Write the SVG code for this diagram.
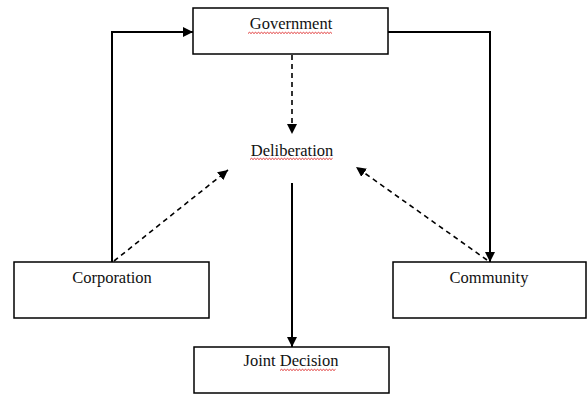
<svg xmlns="http://www.w3.org/2000/svg" width="587" height="395" viewBox="0 0 587 395">
<style>
.box{fill:#fff;stroke:#000;stroke-width:1.5}
.lbl{font-family:"Liberation Serif","DejaVu Serif",serif;font-size:16.5px;fill:#111;text-anchor:middle}
.solid{fill:none;stroke:#000;stroke-width:2}
.dash{fill:none;stroke:#000;stroke-width:1.6;stroke-dasharray:5,4}
.sq{fill:none;stroke:#d22;stroke-width:0.9}
</style>
<defs>
<marker id="ah" viewBox="0 0 10 10" refX="10" refY="5" markerWidth="10" markerHeight="10" markerUnits="userSpaceOnUse" orient="auto">
<path d="M0,0 L10,5 L0,10 z" fill="#000"/>
</marker>
</defs>
<rect width="587" height="395" fill="#fff"/>
<g id="connectors">
<polyline class="solid" points="112,262 112,32 193,32" marker-end="url(#ah)"/>
<polyline class="solid" points="388,32 490,32 490,262" marker-end="url(#ah)"/>
<line class="dash" x1="292" y1="55" x2="292" y2="134" marker-end="url(#ah)"/>
<line class="solid" x1="292" y1="183" x2="292" y2="347" marker-end="url(#ah)"/>
<line class="dash" x1="114" y1="261" x2="228" y2="170" marker-end="url(#ah)"/>
<line class="dash" x1="487" y1="260" x2="356" y2="167" marker-end="url(#ah)"/>
</g>
<g id="government">
<rect class="box" x="193" y="8" width="195" height="46"/>
<text class="lbl" x="291" y="29">Government</text>
<path class="sq" d="M248,33.5 l1.5,-1.2 l1.5,1.2 l1.5,-1.2 l1.5,1.2 l1.5,-1.2 l1.5,1.2 l1.5,-1.2 l1.5,1.2 l1.5,-1.2 l1.5,1.2 l1.5,-1.2 l1.5,1.2 l1.5,-1.2 l1.5,1.2 l1.5,-1.2 l1.5,1.2 l1.5,-1.2 l1.5,1.2 l1.5,-1.2 l1.5,1.2 l1.5,-1.2 l1.5,1.2 l1.5,-1.2 l1.5,1.2 l1.5,-1.2 l1.5,1.2 l1.5,-1.2 l1.5,1.2 l1.5,-1.2 l1.5,1.2 l1.5,-1.2 l1.5,1.2 l1.5,-1.2 l1.5,1.2 l1.5,-1.2 l1.5,1.2 l1.5,-1.2 l1.5,1.2 l1.5,-1.2 l1.5,1.2 l1.5,-1.2 l1.5,1.2 l1.5,-1.2 l1.5,1.2 l1.5,-1.2 l1.5,1.2 l1.5,-1.2 l1.5,1.2 l1.5,-1.2 l1.5,1.2 l1.5,-1.2 l1.5,1.2 l1.5,-1.2 l1.5,1.2 l1.5,-1.2 l1.5,1.2"/>
</g>
<g id="deliberation">
<text class="lbl" x="292" y="156">Deliberation</text>
<path class="sq" d="M250,159.5 l1.5,-1.2 l1.5,1.2 l1.5,-1.2 l1.5,1.2 l1.5,-1.2 l1.5,1.2 l1.5,-1.2 l1.5,1.2 l1.5,-1.2 l1.5,1.2 l1.5,-1.2 l1.5,1.2 l1.5,-1.2 l1.5,1.2 l1.5,-1.2 l1.5,1.2 l1.5,-1.2 l1.5,1.2 l1.5,-1.2 l1.5,1.2 l1.5,-1.2 l1.5,1.2 l1.5,-1.2 l1.5,1.2 l1.5,-1.2 l1.5,1.2 l1.5,-1.2 l1.5,1.2 l1.5,-1.2 l1.5,1.2 l1.5,-1.2 l1.5,1.2 l1.5,-1.2 l1.5,1.2 l1.5,-1.2 l1.5,1.2 l1.5,-1.2 l1.5,1.2 l1.5,-1.2 l1.5,1.2 l1.5,-1.2 l1.5,1.2 l1.5,-1.2 l1.5,1.2 l1.5,-1.2 l1.5,1.2 l1.5,-1.2 l1.5,1.2 l1.5,-1.2 l1.5,1.2 l1.5,-1.2 l1.5,1.2 l1.5,-1.2 l1.5,1.2 l1.5,-1.2"/>
</g>
<g id="corporation">
<rect class="box" x="14" y="262" width="195" height="56"/>
<text class="lbl" x="112" y="283">Corporation</text>
</g>
<g id="community">
<rect class="box" x="393" y="262" width="193" height="56"/>
<text class="lbl" x="489" y="283">Community</text>
</g>
<g id="joint-decision">
<rect class="box" x="194" y="347" width="195" height="46"/>
<text class="lbl" x="291" y="366">Joint Decision</text>
<path class="sq" d="M280,370.5 l1.5,-1.2 l1.5,1.2 l1.5,-1.2 l1.5,1.2 l1.5,-1.2 l1.5,1.2 l1.5,-1.2 l1.5,1.2 l1.5,-1.2 l1.5,1.2 l1.5,-1.2 l1.5,1.2 l1.5,-1.2 l1.5,1.2 l1.5,-1.2 l1.5,1.2 l1.5,-1.2 l1.5,1.2 l1.5,-1.2 l1.5,1.2 l1.5,-1.2 l1.5,1.2 l1.5,-1.2 l1.5,1.2 l1.5,-1.2 l1.5,1.2 l1.5,-1.2 l1.5,1.2 l1.5,-1.2 l1.5,1.2 l1.5,-1.2 l1.5,1.2 l1.5,-1.2 l1.5,1.2 l1.5,-1.2 l1.5,1.2 l1.5,-1.2"/>
</g>
</svg>
